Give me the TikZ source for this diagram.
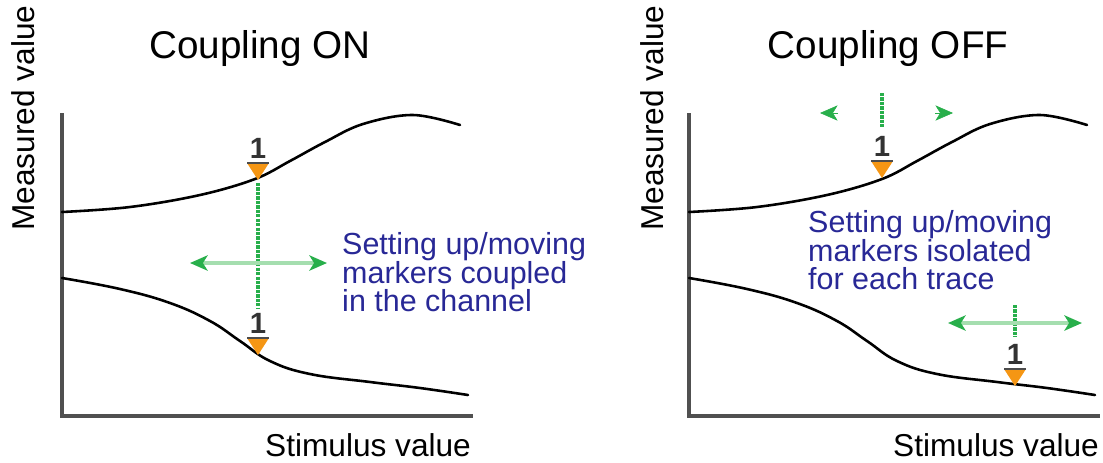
\documentclass[tikz,border=0pt]{standalone}
\usepackage{fontspec}
\setmainfont{Liberation Sans}
\usetikzlibrary{arrows.meta,positioning}
\definecolor{mkorange}{RGB}{245,150,20}
\definecolor{mkgreen}{RGB}{40,175,75}
\definecolor{mklightgreen}{RGB}{165,222,175}
\definecolor{txtblue}{RGB}{40,40,150}
\definecolor{axisgray}{RGB}{80,80,80}
\tikzset{
  mvtip/.tip={Stealth[length=15pt,width=13pt,inset=4pt,color=mkgreen]},
  axis/.style={draw=axisgray, line width=2.6pt},
  trace/.style={draw=black, line width=2.2pt, line cap=round},
  title/.style={font=\fontsize{33}{38}\selectfont, inner sep=0pt},
  axislabel/.style={font=\fontsize{27}{32}\selectfont, inner sep=0pt},
  note/.style={font=\fontsize{26}{24.5}\selectfont, text=txtblue,
    align=left, inner sep=0pt, anchor=north west},
  mklabel/.style={font=\fontsize{25}{28}\selectfont\bfseries,
    text=black!80, inner sep=0pt},
  mkedge/.style={draw=black!70, line width=2pt},
  mkline/.style={draw=mkgreen, line width=2.8pt, densely dotted},
  moverange/.style={draw=mklightgreen, line width=3.4pt, mvtip-mvtip},
  headonly/.style={draw=mkgreen, line width=0.5pt, -mvtip}
}
% orange marker with its number: name, tip position
\newcommand{\trmarker}[2]{%
  \coordinate (#1) at #2;
  \fill[mkorange] (#1) -- ++(-11,-17) -- ++(22,0) -- cycle;
  \path (#1) ++(0,-17) coordinate (#1t);
  \draw[mkedge] (#1t) ++(-11,0) -- ++(22,0);
  \node[mklabel, above=4pt of #1t] (#1l) {1};
}

\begin{document}
\begin{tikzpicture}[x=0.03cm,y=-0.03cm]
  \useasboundingbox (0,0) rectangle (1103,462);

  % ---- coupling on ----
  \node[title] (titleon) at (260,48) {Coupling ON};
  \node[axislabel, rotate=90] (yon) at (23,118) {Measured value};
  \node[axislabel] (xon) at (368,445) {Stimulus value};
  \coordinate (ontop) at (62,113);
  \coordinate (onorig) at (62,416);
  \coordinate (onend) at (473,416);
  \draw[axis] (ontop) -- (onorig) -- (onend);

  \draw[trace] plot[smooth, tension=0.6] coordinates {(62,212) (130,207)
    (200,195) (255,179) (290,161) (325,142) (363,124) (413,115) (460,125)};
  \draw[trace] plot[smooth, tension=0.7] coordinates {(62,278) (120,289)
    (170,303) (210,321) (240,341) (270,361) (310,374) (370,382) (420,388)
    (468,395)};

  \draw[mkline] (258,183) -- (258,308);
  \draw[moverange] (190,263) -- (327,263);
  \trmarker{onup}{(258,180)}
  \trmarker{onlow}{(258,355)}

  \node[note] (noteon) at (342,232)
    {Setting up/moving\\markers coupled\\in the channel};

  % ---- coupling off ----
  \begin{scope}[shift={(627,0)}]
    \node[title] (titleoff) at (261,48) {Coupling OFF};
    \node[axislabel, rotate=90] (yoff) at (25,118) {Measured value};
    \node[axislabel] (xoff) at (369,445) {Stimulus value};
    \coordinate (offtop) at (62,113);
    \coordinate (offorig) at (62,416);
    \coordinate (offend) at (473,416);
    \draw[axis] (offtop) -- (offorig) -- (offend);

    \draw[trace] plot[smooth, tension=0.6] coordinates {(62,212) (130,207)
      (200,195) (255,179) (290,161) (325,142) (363,124) (413,115) (460,125)};
    \draw[trace] plot[smooth, tension=0.7] coordinates {(62,278) (120,289)
      (170,303) (210,321) (240,341) (270,361) (310,374) (370,382) (420,388)
      (468,395)};

    \draw[mkline] (255,93) -- (255,127);
    \coordinate (lhb) at (211,113);
    \coordinate (lht) at (193,113);
    \coordinate (rhb) at (308,113);
    \coordinate (rht) at (326,113);
    \draw[headonly] (lhb) -- (lht);
    \draw[headonly] (rhb) -- (rht);
    \trmarker{offup}{(255,178)}

    \draw[mkline] (388,305) -- (388,337);
    \draw[moverange] (321,323) -- (455,323);
    \trmarker{offlow}{(388,386)}

    \node[note] (noteoff) at (181,210)
      {Setting up/moving\\markers isolated\\for each trace};
  \end{scope}
\end{tikzpicture}
\end{document}
